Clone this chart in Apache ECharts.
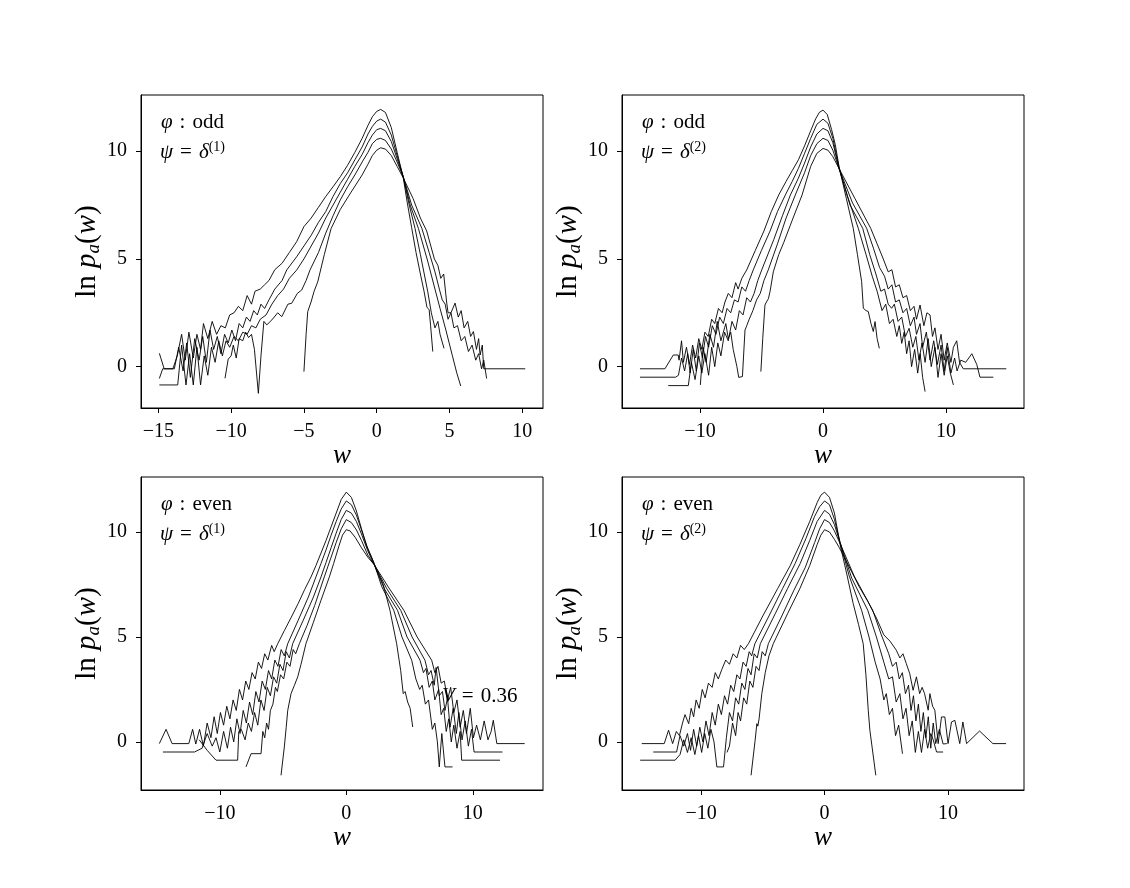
<!DOCTYPE html>
<html>
<head>
<meta charset="utf-8">
<script src="https://cdn.jsdelivr.net/npm/echarts@6/dist/echarts.min.js"></script>
<style>
  html, body { margin: 0; padding: 0; background: #fff; }
  #chart { width: 1130px; height: 888px; }
</style>
</head>
<body>
<div id="chart"></div>
<script>
// tick labels
const ticksX1 = [-15, -10, -5, 0, 5, 10];
const ticksX = [-10, 0, 10];
const ticksY = [0, 5, 10];

// ---- φ odd, ψ = δ(1) ----
const odd1A = [[-5.0,-0.23],[-4.85,1.5],[-4.74,2.55],[-4.51,3.0],[-4.3,3.5],[-4.05,3.94],[-3.6,5.2],[-3.14,6.4],[-2.5,7.3],[-1.76,8.1],[-1.0,8.9],[-0.6,9.4],[-0.3,9.8],[0,10.05],[0.27,10.16],[0.6,10.1],[1.0,9.8],[1.4,9.3],[1.83,8.75],[2.5,7.8],[3.0,6.9],[3.43,6.3],[3.96,5.0],[4.2,4.7],[4.4,4.1],[4.6,4.3],[4.8,3.0],[4.9,2.5],[5.1,2.5],[5.38,2.95],[5.6,2.3],[5.8,2.6],[6.0,1.8],[6.25,2.1],[6.45,1.4],[6.64,1.63],[6.85,0.8],[7.0,1.3],[7.1,0.54],[7.25,1.0],[7.35,-0.1],[10.2,-0.1]];
const odd1B = [[-10.42,-0.54],[-10.2,0.35],[-10.0,0.5],[-9.85,1.0],[-9.65,0.4],[-9.45,1.3],[-9.2,1.2],[-9.0,1.6],[-8.8,1.35],[-8.6,1.5],[-8.4,0.8],[-8.13,-1.24],[-7.95,0.5],[-7.75,2.1],[-7.55,1.94],[-7.2,2.17],[-6.8,2.5],[-6.52,2.32],[-6.1,2.9],[-5.84,2.94],[-5.45,3.4],[-5.15,3.56],[-4.85,4.0],[-4.58,4.49],[-4.0,5.3],[-3.5,6.2],[-3.0,7.0],[-2.5,7.74],[-2.0,8.35],[-1.5,8.9],[-1.0,9.5],[-0.6,9.95],[-0.3,10.35],[0,10.55],[0.27,10.6],[0.6,10.5],[1.0,10.1],[1.4,9.5],[1.83,8.8],[2.4,7.5],[3.1,6.42],[3.6,5.3],[4.0,4.4],[4.3,3.6],[4.5,3.1],[4.7,2.9],[4.9,2.2],[5.1,2.5],[5.3,1.8],[5.55,1.9],[5.8,1.2],[6.05,1.4],[6.3,0.7],[6.55,1.0],[6.8,0.3],[7.0,0.6],[7.2,-0.1],[7.35,0.3],[7.55,-0.55]];
const odd1C = [[-14.93,-0.85],[-13.67,-0.85],[-13.4,1.0],[-13.1,-0.85],[-12.85,0.6],[-12.6,-0.85],[-12.35,0.9],[-12.1,-0.85],[-11.85,0.5],[-11.6,-0.4],[-11.35,0.9],[-11.1,0.2],[-10.85,1.2],[-10.6,0.5],[-10.35,1.2],[-10.1,0.9],[-9.8,1.4],[-9.5,1.2],[-9.2,1.6],[-8.9,1.5],[-8.6,1.9],[-8.3,1.8],[-8.0,2.2],[-7.6,2.4],[-7.2,2.9],[-6.8,3.3],[-6.4,3.6],[-6.0,4.1],[-5.49,4.49],[-5.0,5.0],[-4.5,5.6],[-4.0,6.2],[-3.5,6.9],[-3.0,7.5],[-2.5,8.1],[-2.0,8.7],[-1.5,9.3],[-1.0,9.85],[-0.6,10.4],[-0.3,10.75],[0,11.0],[0.27,11.06],[0.6,10.95],[1.0,10.45],[1.4,9.65],[1.83,8.8],[2.3,7.5],[2.86,6.42],[3.5,4.9],[4.0,3.6],[4.35,2.7],[4.75,1.7],[5.2,0.5],[5.5,-0.3],[5.77,-0.9]];
const odd1D = [[-14.93,-0.55],[-14.7,-0.1],[-13.9,-0.1],[-13.6,0.9],[-13.3,-0.2],[-13.05,1.1],[-12.8,-0.5],[-12.5,1.3],[-12.2,0.3],[-11.95,1.4],[-11.7,0.2],[-11.45,1.7],[-11.2,0.8],[-10.95,1.4],[-10.7,0.6],[-10.45,1.5],[-10.2,1.1],[-9.95,1.7],[-9.7,1.2],[-9.45,2.0],[-9.2,1.8],[-8.95,2.3],[-8.7,2.1],[-8.45,2.6],[-8.2,2.4],[-7.95,2.9],[-7.7,2.7],[-7.4,3.1],[-7.0,3.6],[-6.5,4.0],[-6.18,4.49],[-5.5,5.1],[-5.0,5.6],[-4.5,6.1],[-4.0,6.7],[-3.5,7.2],[-3.0,7.9],[-2.5,8.5],[-2.0,9.0],[-1.5,9.6],[-1.0,10.2],[-0.6,10.8],[-0.3,11.15],[0,11.4],[0.27,11.49],[0.6,11.35],[1.0,10.75],[1.4,9.8],[1.83,8.8],[2.2,7.6],[2.63,6.42],[3.0,5.2],[3.5,3.5],[3.75,2.5],[4.0,1.8],[4.2,2.1],[4.35,1.5],[4.62,0.85]];
const odd1E = [[-14.93,0.62],[-14.6,-0.1],[-14.0,-0.1],[-13.7,0.5],[-13.4,1.5],[-13.15,0.3],[-12.9,1.6],[-12.6,0.4],[-12.35,1.5],[-12.1,0.8],[-11.9,2.0],[-11.6,1.3],[-11.3,2.1],[-11.0,1.5],[-10.7,1.9],[-10.4,1.8],[-10.1,2.4],[-9.8,2.5],[-9.5,2.8],[-9.2,2.6],[-8.9,3.3],[-8.6,2.9],[-8.36,3.5],[-8.0,3.6],[-7.7,3.8],[-7.4,4.0],[-7.0,4.5],[-6.5,4.8],[-6.0,5.3],[-5.5,5.8],[-5.0,6.5],[-4.5,6.9],[-4.0,7.4],[-3.5,7.9],[-3.0,8.35],[-2.5,8.82],[-2.0,9.35],[-1.5,9.95],[-1.0,10.6],[-0.6,11.2],[-0.3,11.6],[0,11.85],[0.27,11.94],[0.6,11.8],[1.0,11.1],[1.4,9.95],[1.83,8.74],[2.1,7.6],[2.4,6.45],[2.7,5.3],[3.0,4.3],[3.25,3.5],[3.45,2.75],[3.6,2.65],[3.7,1.9],[3.85,0.7]];

// ---- φ odd, ψ = δ(2) ----
const odd2A = [[-5.05,-0.23],[-4.9,1.3],[-4.72,2.86],[-4.6,3.0],[-4.44,3.15],[-4.3,3.5],[-4.04,4.4],[-3.6,5.2],[-3.2,5.75],[-2.5,6.8],[-1.7,7.97],[-1.0,9.3],[-0.5,9.9],[0,10.13],[0.4,10.05],[0.8,9.75],[1.3,9.2],[2.6,7.8],[3.88,6.42],[4.4,5.7],[4.9,5.0],[5.3,4.4],[5.6,4.5],[5.9,3.7],[6.2,3.8],[6.5,3.2],[6.8,3.3],[7.1,2.6],[7.4,2.8],[7.6,2.2],[7.89,2.86],[8.2,1.9],[8.45,2.5],[8.7,2.4],[8.9,1.4],[9.1,1.8],[9.35,0.8],[9.6,1.5],[9.85,0.3],[10.1,1.1],[10.4,0.2],[10.6,0.9],[10.87,1.2],[11.1,0.2],[11.4,-0.1],[14.9,-0.1]];
const odd2B = [[-9.97,-0.85],[-9.75,0.9],[-9.5,0.2],[-9.2,1.5],[-8.9,0.9],[-8.6,2.1],[-8.3,1.2],[-8.0,1.8],[-7.9,2.0],[-7.7,1.3],[-7.5,1.6],[-7.3,0.8],[-7.0,0.0],[-6.85,-0.5],[-6.55,-0.46],[-6.34,1.7],[-6.2,1.9],[-6.0,2.2],[-5.7,2.6],[-5.4,3.1],[-5.1,3.4],[-4.8,4.0],[-4.45,4.49],[-3.7,5.7],[-3.0,6.9],[-2.25,7.97],[-1.5,9.0],[-1.0,9.8],[-0.5,10.35],[0,10.6],[0.4,10.5],[0.8,10.05],[1.3,9.2],[2.4,7.6],[3.55,6.42],[4.1,5.5],[4.6,4.6],[5.0,4.2],[5.3,3.6],[5.6,3.8],[5.9,3.0],[6.2,3.1],[6.5,2.5],[6.8,2.7],[7.1,1.9],[7.4,2.3],[7.6,1.5],[7.89,2.0],[8.1,0.9],[8.4,1.6],[8.7,0.3],[9.0,1.2],[9.3,0.1],[9.6,1.0],[9.85,-0.2],[10.1,0.9],[10.4,-0.3],[10.7,0.4],[10.9,-0.2],[11.2,0.3],[11.6,0.2],[12.1,0.6],[12.5,0.1],[12.76,-0.49],[13.85,-0.49]];
const odd2C = [[-12.58,-0.88],[-10.95,-0.88],[-10.7,0.2],[-10.4,-0.6],[-10.1,0.5],[-9.85,-0.3],[-9.6,0.6],[-9.3,-0.4],[-9.05,0.9],[-8.8,0.0],[-8.55,1.1],[-8.3,0.5],[-8.0,1.6],[-7.7,1.2],[-7.4,2.1],[-7.1,1.7],[-6.8,2.6],[-6.5,2.4],[-6.2,3.2],[-5.9,3.0],[-5.6,3.4],[-5.3,4.0],[-4.98,4.49],[-4.0,5.9],[-3.3,7.0],[-2.65,7.97],[-2.0,8.75],[-1.5,9.45],[-1.0,10.2],[-0.5,10.8],[0,11.06],[0.4,10.95],[0.8,10.4],[1.3,9.2],[2.2,7.5],[3.23,6.42],[3.8,5.2],[4.3,4.3],[4.7,3.5],[5.0,3.6],[5.3,2.9],[5.58,2.71],[5.8,2.9],[6.1,2.1],[6.4,2.3],[6.7,1.4],[7.0,1.78],[7.3,0.9],[7.55,1.4],[7.8,0.3],[8.05,1.1],[8.3,0.2],[8.55,1.3],[8.8,0.0],[9.1,0.9],[9.35,-0.5],[9.6,0.6],[9.85,-0.4],[10.1,0.5],[10.35,-0.3],[10.6,-0.85]];
const odd2D = [[-14.88,-0.49],[-11.98,-0.49],[-11.75,-0.4],[-11.5,0.4],[-11.25,-0.2],[-11.0,0.6],[-10.8,-0.3],[-10.55,0.8],[-10.3,-0.2],[-10.05,1.1],[-9.8,0.4],[-9.55,1.4],[-9.3,0.9],[-9.0,1.9],[-8.7,1.5],[-8.4,2.3],[-8.1,2.0],[-7.8,2.7],[-7.5,2.5],[-7.2,3.1],[-6.9,3.0],[-6.6,3.7],[-6.3,3.5],[-6.0,4.0],[-5.67,4.49],[-5.0,5.4],[-4.3,6.3],[-3.7,7.2],[-3.06,7.97],[-2.5,8.6],[-2.0,9.2],[-1.5,9.9],[-1.0,10.6],[-0.5,11.25],[0,11.49],[0.4,11.3],[0.8,10.6],[1.3,9.25],[2.0,7.9],[2.87,6.42],[3.5,5.2],[4.0,4.2],[4.4,3.5],[4.8,2.6],[5.1,2.9],[5.4,2.0],[5.7,2.2],[6.0,1.4],[6.2,1.9],[6.4,1.08],[6.6,1.6],[6.8,0.6],[7.0,1.2],[7.2,0.0],[7.45,0.8],[7.7,-0.3],[7.9,0.6],[8.1,-0.5],[8.3,-1.16]];
const odd2E = [[-14.88,-0.1],[-12.85,-0.1],[-12.17,0.54],[-11.77,0.54],[-11.7,0.3],[-11.5,1.2],[-11.35,0.2],[-11.1,0.9],[-10.85,0.1],[-10.6,1.0],[-10.35,0.4],[-10.1,1.3],[-9.85,0.8],[-9.6,1.6],[-9.33,1.4],[-9.05,2.2],[-8.8,2.0],[-8.5,2.7],[-8.2,2.5],[-7.97,3.0],[-7.7,3.4],[-7.4,3.2],[-7.1,3.9],[-6.9,3.6],[-6.6,4.1],[-6.2,4.49],[-5.5,5.4],[-4.8,6.3],[-4.2,7.2],[-3.6,7.97],[-3.0,8.6],[-2.5,9.1],[-2.0,9.6],[-1.5,10.25],[-1.0,10.95],[-0.6,11.5],[-0.3,11.8],[0,11.91],[0.35,11.7],[0.7,11.0],[1.0,10.3],[1.3,9.3],[1.9,7.8],[2.46,6.42],[2.8,5.2],[3.14,3.95],[3.28,2.71],[3.5,2.6],[3.68,2.56],[3.9,2.0],[4.09,1.63],[4.23,2.09],[4.4,1.3],[4.58,0.85]];

// ---- φ even, ψ = δ(1) ----
const even1A = [[-5.16,-1.59],[-4.9,-0.24],[-4.75,0.7],[-4.63,1.5],[-4.37,2.3],[-4.1,2.7],[-3.84,3.1],[-3.58,3.7],[-3.19,4.68],[-2.6,5.7],[-2.0,6.75],[-1.34,7.86],[-1.0,8.5],[-0.6,9.3],[-0.3,9.85],[0,10.11],[0.3,10.05],[0.7,9.75],[1.2,9.25],[1.7,8.8],[2.2,8.45],[3.3,7.4],[4.55,6.27],[5.6,5.0],[6.75,3.89],[7.0,3.3],[7.25,3.6],[7.5,2.8],[7.75,2.9],[8.0,2.0],[8.25,2.6],[8.5,1.4],[8.75,2.0],[9.0,0.7],[9.25,1.5],[9.5,0.4],[9.8,1.6],[10.05,0.2],[10.3,0.8],[10.6,0.1],[10.9,1.0],[11.2,0.1],[11.45,0.5],[11.62,1.03],[11.9,-0.08],[14.1,-0.08]];
const even1B = [[-7.93,-1.19],[-7.53,-0.56],[-6.74,-0.56],[-6.6,0.5],[-6.45,0.2],[-6.3,0.9],[-6.15,0.6],[-6.0,1.5],[-5.8,1.8],[-5.6,2.6],[-5.45,2.4],[-5.2,3.2],[-4.95,3.0],[-4.7,3.8],[-4.45,3.6],[-4.2,4.4],[-4.0,4.2],[-3.71,4.68],[-3.1,5.55],[-2.5,6.5],[-1.74,7.86],[-1.2,8.8],[-0.8,9.5],[-0.4,10.15],[0,10.59],[0.4,10.45],[0.8,10.1],[1.2,9.6],[1.7,8.9],[2.2,8.45],[3.2,7.3],[4.3,6.27],[5.2,5.0],[6.22,3.89],[6.5,3.2],[6.7,3.4],[6.95,2.7],[7.1,3.55],[7.35,2.2],[7.6,2.4],[7.8,1.5],[8.0,2.1],[8.2,0.7],[8.45,1.6],[8.7,0.4],[8.9,1.4],[9.15,0.1],[9.4,1.0],[9.65,-0.2],[9.9,0.6],[10.1,-0.48],[12.35,-0.48]];
const even1C = [[-11.63,0.1],[-11.0,-0.4],[-10.3,-0.87],[-8.59,-0.87],[-8.5,0.5],[-8.3,0.6],[-8.0,0.1],[-7.75,0.9],[-7.5,0.5],[-7.25,1.4],[-7.0,0.8],[-6.75,2.0],[-6.5,1.5],[-6.25,2.6],[-6.0,2.2],[-5.75,3.1],[-5.5,2.8],[-5.25,3.7],[-5.0,3.4],[-4.75,4.3],[-4.5,4.0],[-4.24,4.68],[-3.4,5.8],[-2.6,6.9],[-2.0,7.86],[-1.6,8.55],[-1.2,9.25],[-0.8,9.95],[-0.4,10.6],[0,11.03],[0.4,10.9],[0.8,10.5],[1.2,9.9],[1.7,9.1],[2.2,8.45],[3.0,7.3],[4.05,6.27],[4.8,5.0],[5.83,3.89],[6.1,3.3],[6.3,3.5],[6.55,2.6],[6.8,2.9],[7.0,2.0],[7.3,2.5],[7.5,1.3],[7.7,1.6],[7.9,0.5],[8.1,1.1],[8.3,0.0],[8.5,0.8],[8.75,-0.3],[9.0,0.5],[9.12,-0.87],[12.15,-0.87]];
const even1D = [[-14.5,-0.48],[-12.0,-0.48],[-11.4,-0.3],[-11.0,0.4],[-10.6,-0.2],[-10.3,0.2],[-10.0,-0.48],[-9.7,0.5],[-9.4,-0.3],[-9.15,0.7],[-8.9,0.0],[-8.65,1.1],[-8.4,0.4],[-8.15,1.5],[-7.9,0.9],[-7.65,1.9],[-7.4,1.3],[-7.15,2.4],[-6.9,1.9],[-6.65,2.9],[-6.4,2.5],[-6.15,3.4],[-5.9,3.0],[-5.65,3.9],[-5.4,3.6],[-5.15,4.4],[-4.9,4.1],[-4.63,4.68],[-3.8,5.8],[-3.0,6.9],[-2.4,7.86],[-2.0,8.5],[-1.6,9.15],[-1.2,9.85],[-0.8,10.5],[-0.4,11.1],[0,11.48],[0.4,11.3],[0.8,10.8],[1.2,10.1],[1.7,9.2],[2.2,8.5],[2.8,7.4],[3.75,6.27],[4.4,5.0],[5.17,3.89],[5.5,3.0],[5.8,2.5],[6.0,2.7],[6.25,1.8],[6.5,2.0],[6.8,0.6],[7.0,0.9],[7.2,0.0],[7.35,-1.19],[7.55,0.4],[7.8,-1.19],[8.4,-1.19]];
const even1E = [[-14.78,-0.08],[-14.25,0.6],[-13.77,-0.08],[-12.45,-0.08],[-12.15,0.6],[-11.9,-0.1],[-11.6,0.6],[-11.3,-0.2],[-11.0,0.9],[-10.7,0.2],[-10.45,1.2],[-10.2,0.4],[-9.95,1.4],[-9.7,0.8],[-9.45,1.7],[-9.2,1.1],[-8.95,2.0],[-8.7,1.5],[-8.45,2.5],[-8.2,2.0],[-7.95,2.9],[-7.7,2.5],[-7.45,3.3],[-7.2,3.0],[-6.95,3.8],[-6.7,3.5],[-6.45,4.2],[-6.2,3.9],[-5.9,4.6],[-5.7,4.3],[-5.42,4.68],[-4.9,5.3],[-4.3,6.0],[-3.8,6.6],[-3.3,7.25],[-2.79,7.86],[-2.4,8.4],[-2.0,9.0],[-1.6,9.6],[-1.2,10.25],[-0.8,10.9],[-0.4,11.55],[0,11.9],[0.4,11.65],[0.8,11.0],[1.2,10.15],[1.6,9.35],[2.0,8.8],[2.4,8.2],[2.92,7.5],[3.45,6.27],[3.98,4.68],[4.3,3.4],[4.5,2.3],[4.65,2.4],[4.85,1.9],[5.05,1.6],[5.25,0.71]];

// ---- φ even, ψ = δ(2) ----
const even2A = [[-5.95,-1.59],[-5.89,-1.59],[-5.62,0.08],[-5.48,0.87],[-5.4,0.75],[-5.3,1.1],[-5.08,2.3],[-4.8,3.3],[-4.5,4.1],[-4.15,4.68],[-3.0,6.1],[-2.0,7.3],[-1.2,8.4],[-0.6,9.4],[-0.3,9.85],[0,10.11],[0.4,10.0],[0.8,9.65],[1.2,9.25],[1.6,8.8],[2.2,8.1],[2.8,7.4],[3.5,6.7],[4.2,5.9],[4.8,5.1],[5.3,4.8],[5.81,4.37],[6.1,4.0],[6.35,4.2],[6.62,3.73],[6.9,3.25],[7.17,2.46],[7.44,3.1],[7.7,2.3],[7.9,2.6],[8.1,2.3],[8.39,1.51],[8.53,2.3],[8.75,1.7],[8.93,1.51],[9.2,-0.08],[9.47,1.19],[9.74,1.19],[10.0,-0.08],[10.28,0.95],[10.55,1.03],[10.95,-0.08],[11.2,0.95],[11.5,-0.08],[11.6,-0.08],[12.55,0.52],[13.63,-0.08],[14.7,-0.08]];
const even2B = [[-7.9,-0.5],[-7.7,-0.2],[-7.45,0.9],[-7.2,0.3],[-7.0,1.4],[-6.8,1.0],[-6.55,2.1],[-6.3,1.8],[-6.05,2.9],[-5.8,2.6],[-5.55,3.6],[-5.3,3.4],[-5.05,4.3],[-4.8,4.1],[-4.55,4.68],[-3.5,5.95],[-2.5,7.2],[-1.57,8.3],[-0.8,9.5],[-0.4,10.15],[0,10.59],[0.4,10.45],[0.8,10.05],[1.26,9.45],[2.4,7.9],[3.9,6.27],[4.6,5.1],[5.2,4.2],[5.5,3.6],[5.8,3.8],[6.05,3.0],[6.3,3.3],[6.55,2.3],[6.8,2.7],[7.0,1.5],[7.2,2.2],[7.4,1.0],[7.6,1.8],[7.8,0.5],[8.0,1.4],[8.2,0.2],[8.4,1.2],[8.6,-0.3],[8.8,0.9],[9.0,-0.08],[9.3,0.6],[9.6,-0.1],[9.9,-0.08]];
const even2C = [[-14.93,-0.87],[-12.1,-0.87],[-11.7,-0.6],[-11.4,0.1],[-11.1,-0.5],[-10.8,0.2],[-10.5,-0.6],[-10.2,0.3],[-9.95,-0.5],[-9.7,0.4],[-9.45,-0.3],[-9.2,0.6],[-8.95,0.0],[-8.72,-1.19],[-8.18,-1.19],[-7.95,0.2],[-7.7,1.4],[-7.45,1.0],[-7.2,2.1],[-6.95,1.8],[-6.7,2.8],[-6.45,2.5],[-6.2,3.5],[-5.95,3.2],[-5.7,4.2],[-5.45,4.0],[-5.2,4.68],[-4.0,6.1],[-3.0,7.3],[-1.97,8.5],[-1.2,9.6],[-0.6,10.5],[0,11.03],[0.4,10.85],[0.8,10.35],[1.26,9.5],[2.2,7.8],[3.5,6.27],[4.2,5.0],[4.8,3.8],[5.2,3.0],[5.5,3.1],[5.8,1.9],[6.1,2.3],[6.35,1.1],[6.6,1.6],[6.85,0.3],[7.1,1.0],[7.35,-0.5],[7.6,0.5],[7.85,-0.5],[8.1,0.6],[8.35,-0.3],[8.6,0.4],[8.8,0.1],[9.07,-0.48],[9.6,-0.48]];
const even2D = [[-13.87,-0.48],[-11.98,-0.48],[-11.7,0.3],[-11.4,-0.2],[-11.1,0.4],[-10.85,-0.4],[-10.6,0.6],[-10.35,-0.2],[-10.1,0.7],[-9.85,0.0],[-9.6,1.0],[-9.35,0.3],[-9.1,1.4],[-8.85,0.8],[-8.6,1.8],[-8.35,1.3],[-8.1,2.2],[-7.85,1.8],[-7.6,2.7],[-7.35,2.4],[-7.1,3.2],[-6.85,3.0],[-6.6,3.8],[-6.35,3.6],[-6.1,4.3],[-5.9,4.1],[-5.64,4.68],[-4.5,6.0],[-3.4,7.3],[-2.38,8.5],[-1.5,9.7],[-0.8,10.75],[-0.4,11.2],[0,11.48],[0.4,11.3],[0.8,10.6],[1.26,9.5],[2.0,7.9],[3.0,6.27],[3.6,5.0],[4.1,3.8],[4.5,3.0],[4.8,2.0],[5.0,2.3],[5.25,1.3],[5.5,1.6],[5.75,0.3],[6.0,0.8],[6.31,-0.56]];
const even2E = [[-14.8,-0.08],[-12.98,-0.08],[-12.63,0.56],[-12.3,-0.08],[-12.0,0.5],[-11.75,0.3],[-11.5,0.9],[-11.3,1.3],[-11.0,0.87],[-10.8,1.6],[-10.6,1.2],[-10.4,2.0],[-10.15,1.6],[-9.9,2.5],[-9.67,2.1],[-9.4,2.8],[-9.1,2.6],[-8.85,3.3],[-8.6,3.0],[-8.32,3.45],[-8.0,3.9],[-7.7,3.7],[-7.4,4.2],[-7.1,4.0],[-6.8,4.6],[-6.5,4.4],[-6.16,4.68],[-5.0,6.0],[-3.8,7.3],[-2.78,8.4],[-2.0,9.4],[-1.2,10.5],[-0.6,11.4],[-0.3,11.75],[0,11.9],[0.4,11.65],[0.8,10.9],[1.26,9.4],[1.8,8.0],[2.32,6.59],[2.75,5.6],[3.13,4.68],[3.35,3.2],[3.54,1.51],[3.67,0.56],[3.8,0.6],[4.15,-1.59]];

const FONT = '"Liberation Serif", "DejaVu Serif", serif';

const panels = [
  { left: 141, top: 95,  x: [-16.19, 11.42], y: [-1.92, 12.61], xt: ticksX1, curves: [odd1A, odd1B, odd1C, odd1D, odd1E], phi: 'odd',  k: '1' },
  { left: 622, top: 95,  x: [-16.34, 16.34], y: [-1.92, 12.61], xt: ticksX,  curves: [odd2A, odd2B, odd2C, odd2D, odd2E], phi: 'odd',  k: '2' },
  { left: 141, top: 477, x: [-16.23, 15.55], y: [-2.29, 12.62], xt: ticksX,  curves: [even1A, even1B, even1C, even1D, even1E], phi: 'even', k: '1' },
  { left: 622, top: 477, x: [-16.40, 16.15], y: [-2.29, 12.62], xt: ticksX,  curves: [even2A, even2B, even2C, even2D, even2E], phi: 'even', k: '2' }
];

const W = 402, H = 313;
const fmt = v => (v < 0 ? '\u2212' + Math.abs(v) : String(v));
const SP = '\u2004';   // math-ish spacing around : and =

const chart = echarts.init(document.getElementById('chart'), null, { renderer: 'canvas' });

const grids = [], xAxes = [], yAxes = [], series = [], titles = [];
panels.forEach((p, i) => {
  grids.push({
    left: p.left, top: p.top, width: W, height: H,
    show: true, borderColor: '#000', borderWidth: 1,
    containLabel: false, outerBoundsMode: 'none'
  });
  xAxes.push({
    type: 'value', gridIndex: i, min: p.x[0], max: p.x[1],
    axisLine: { show: true, onZero: false, lineStyle: { color: '#000', width: 1 } },
    axisTick: { show: true, length: 5, customValues: p.xt, lineStyle: { color: '#000', width: 1 } },
    axisLabel: { customValues: p.xt, formatter: fmt, color: '#000', fontFamily: FONT, fontSize: 20, margin: 14 },
    splitLine: { show: false },
    name: 'w', nameLocation: 'middle', nameGap: 28,
    nameTextStyle: { color: '#000', fontFamily: FONT, fontStyle: 'italic', fontSize: 27 }
  });
  yAxes.push({
    type: 'value', gridIndex: i, min: p.y[0], max: p.y[1],
    axisLine: { show: true, onZero: false, lineStyle: { color: '#000', width: 1 } },
    axisTick: { show: true, length: 5, customValues: ticksY, lineStyle: { color: '#000', width: 1 } },
    axisLabel: { customValues: ticksY, formatter: fmt, color: '#000', fontFamily: FONT, fontSize: 20, margin: 14 },
    splitLine: { show: false },
    name: '{n|ln }{i|p}{sub|a}{n|(}{i|w}{n|)}', nameLocation: 'middle', nameGap: 32, nameRotate: 90,
    nameTextStyle: {
      color: '#000', fontFamily: FONT, fontSize: 29,
      rich: {
        n: { fontFamily: FONT, fontSize: 29, lineHeight: 32, color: '#000' },
        i: { fontFamily: FONT, fontSize: 29, lineHeight: 32, fontStyle: 'italic', color: '#000' },
        sub: { fontFamily: FONT, fontSize: 19, lineHeight: 17, fontStyle: 'italic', verticalAlign: 'bottom', color: '#000' }
      }
    }
  });
  p.curves.forEach(c => {
    series.push({
      type: 'line', xAxisIndex: i, yAxisIndex: i, data: c,
      showSymbol: false, symbol: 'none', silent: true, clip: true,
      lineStyle: { color: '#000', width: 0.9 }
    });
  });
  const rich = {
    i: { fontFamily: FONT, fontSize: 21, fontStyle: 'italic', color: '#000', lineHeight: 24 },
    r: { fontFamily: FONT, fontSize: 21, color: '#000', lineHeight: 24 },
    sup: { fontFamily: FONT, fontSize: 14, color: '#000', lineHeight: 18, verticalAlign: 'top' }
  };
  titles.push({
    text: '{i|\u03c6}{r|' + SP + ':' + SP + p.phi + '}', left: p.left + 20, top: p.top + 15, padding: 0,
    textStyle: { fontFamily: FONT, fontSize: 21, fontWeight: 'normal', color: '#000', rich: rich }
  });
  titles.push({
    text: '{i|\u03c8}{r|' + SP + '=' + SP + '}{i|\u03b4}{sup|(' + p.k + ')}', left: p.left + 19, top: p.top + 45, padding: 0,
    textStyle: { fontFamily: FONT, fontSize: 21, fontWeight: 'normal', color: '#000', rich: rich }
  });
});

// annotation in the lower-left panel
titles.push({
  text: '{i|V}{r|' + SP + '=' + SP + '0.36}', left: 442, top: 684, padding: 0, z: 10,
  textStyle: {
    fontFamily: FONT, fontSize: 21, fontWeight: 'normal', color: '#000',
    rich: {
      i: { fontFamily: FONT, fontSize: 21, fontStyle: 'italic', color: '#000', lineHeight: 24 },
      r: { fontFamily: FONT, fontSize: 21, color: '#000', lineHeight: 24 }
    }
  }
});

chart.setOption({
  backgroundColor: '#fff',
  animation: false,
  title: titles,
  grid: grids,
  xAxis: xAxes,
  yAxis: yAxes,
  series: series
});
window.addEventListener('resize', () => chart.resize());
</script>
</body>
</html>
